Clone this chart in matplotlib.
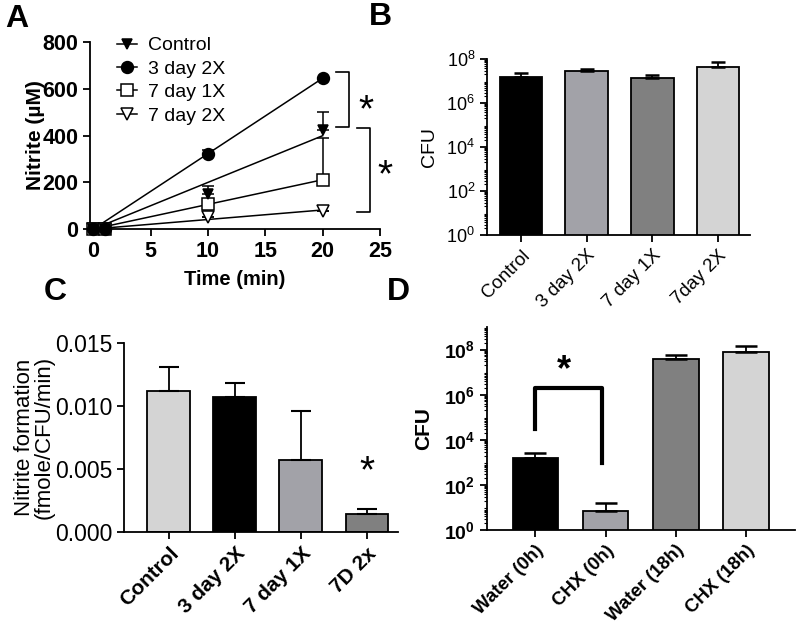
import numpy as np
import matplotlib
matplotlib.use("Agg")
import matplotlib.pyplot as plt
import matplotlib.ticker as ticker
from matplotlib.lines import Line2D

plt.rcParams['font.family'] = ['Liberation Sans', 'DejaVu Sans']
plt.rcParams['mathtext.default'] = 'regular'
plt.rcParams['axes.linewidth'] = 1.3

# panel A: nitrite over time
time_min = [0, 1, 10, 20]
control = [0, 0, 150, 425]
control_err = [0, 0, 35, 75]
day3_2x = [0, 0, 320, 648]
day3_2x_err = [0, 0, 20, 0]
day7_1x = [0, 0, 108, 210]
day7_1x_err = [0, 0, 20, 180]
day7_2x = [0, 0, 50, 77]
day7_2x_err = [0, 0, 0, 0]

# panel B: CFU per group
b_groups = ["Control", "3 day 2X", "7 day 1X", "7day 2X"]
b_cfu = [1.5e7, 2.8e7, 1.4e7, 4.3e7]
b_err = [0.8e7, 0.7e7, 0.5e7, 3.0e7]

# panel C: nitrite formation rate
c_groups = ["Control", "3 day 2X", "7 day 1X", "7D 2x"]
c_rate = [0.0112, 0.0107, 0.0057, 0.0014]
c_err = [0.0019, 0.0011, 0.0039, 0.0004]

# panel D: CFU water vs CHX
d_groups = ["Water (0h)", "CHX (0h)", "Water (18h)", "CHX (18h)"]
d_cfu = [1.6e3, 7, 3.9e7, 7.6e7]
d_err = [1.0e3, 8, 2.1e7, 6.4e7]

LIGHT = "#d4d4d4"
MID = "#a2a2a8"
DARK = "#808080"

fig = plt.figure(figsize=(8, 6.3), dpi=100)


def px_axes(left, right, top, bottom):
    W, H = 800.0, 630.0
    return fig.add_axes([left / W, 1 - bottom / H, (right - left) / W, (bottom - top) / H])


def clean(ax):
    ax.spines['top'].set_visible(False)
    ax.spines['right'].set_visible(False)
    ax.tick_params(direction='out', length=5, width=1.3, color='black')


def log_fmt(v, pos):
    e = int(round(np.log10(v)))
    return r"$10^{%d}$" % e


# ---- A ----
axA = px_axes(90, 380, 42, 229)
clean(axA)
t = np.array(time_min, dtype=float)
series = [
    (control, control_err, 'v', 'black', 7.5),
    (day3_2x, day3_2x_err, 'o', 'black', 8.5),
    (day7_1x, day7_1x_err, 's', 'white', 8),
    (day7_2x, day7_2x_err, 'v', 'white', 8),
]
# draw in reverse so the filled symbols sit on top at the origin
for i, (vals, err, m, fc, ms) in enumerate(series[::-1]):
    y = np.array(vals, dtype=float)
    slope = np.sum(t * y) / np.sum(t * t)
    xs = np.array([0, 20])
    axA.plot(xs, slope * xs, color='black', lw=1.1, zorder=2)
    axA.errorbar(t, y, yerr=[np.zeros_like(y), np.array(err)], fmt=m, mfc=fc, mec='black',
                 ms=ms, mew=1.1, ecolor='black', elinewidth=1.1, capsize=4.5,
                 clip_on=False, zorder=3 + i)
axA.set_xlim(-0.3, 25)
axA.set_ylim(0, 800)
axA.xaxis.set_major_locator(ticker.MultipleLocator(5))
axA.yaxis.set_major_locator(ticker.MultipleLocator(200))
for lab in axA.get_xticklabels() + axA.get_yticklabels():
    lab.set_fontsize(15.5)
    lab.set_fontweight('bold')
axA.set_xlabel("Time (min)", fontsize=14.5, fontweight='bold')
axA.xaxis.set_label_coords(0.5, -0.22)
axA.set_ylabel("Nitrite (µM)", fontsize=15, fontweight='bold')
axA.yaxis.set_label_coords(-0.155, 0.5)
handles = [Line2D([], [], color='black', lw=1.1, marker=m, mfc=fc, mec='black', ms=ms, mew=1.1)
           for _, _, m, fc, ms in series]
axA.legend(handles, ["Control", "3 day 2X", "7 day 1X", "7 day 2X"], loc='upper left',
           bbox_to_anchor=(0.06, 1.08), frameon=False, fontsize=14, handlelength=1.0,
           handletextpad=0.6, labelspacing=0.3, borderpad=0)
# significance brackets
kw = dict(color='black', lw=1.2, clip_on=False)
axA.plot([21.2, 22.3, 22.3, 21.2], [672, 672, 435, 435], **kw)
axA.plot([23.0, 24.1, 24.1, 23.0], [432, 432, 73, 73], **kw)
axA.text(23.8, 503, "*", fontsize=28, ha='center', va='center', clip_on=False)
axA.text(25.4, 225, "*", fontsize=28, ha='center', va='center', clip_on=False)

# ---- B ----
axB = px_axes(487, 750, 59, 235)
clean(axB)
xb = np.arange(len(b_groups))
axB.bar(xb, b_cfu, width=0.65, color=['black', MID, DARK, LIGHT], edgecolor='black', lw=1.3)
axB.errorbar(xb, b_cfu, yerr=[np.zeros(len(b_cfu)), b_err], fmt='none', ecolor='black',
             elinewidth=1.3, capsize=4.7, capthick=1.8)
axB.set_yscale('log')
axB.set_ylim(1, 1e8)
axB.set_xlim(-0.52, 3.49)
axB.yaxis.set_major_locator(ticker.FixedLocator([1, 1e2, 1e4, 1e6, 1e8]))
axB.yaxis.set_minor_locator(ticker.LogLocator(base=10, subs=np.arange(2, 10), numticks=20))
axB.yaxis.set_minor_formatter(ticker.NullFormatter())
axB.yaxis.set_major_formatter(ticker.FuncFormatter(log_fmt))
axB.tick_params(axis='y', which='minor', length=2.5, width=0.8)
axB.set_xticks(xb)
axB.set_xticklabels(b_groups, rotation=45, ha='right', rotation_mode='anchor', fontsize=13.5)
axB.tick_params(axis='y', labelsize=13)
axB.set_ylabel("CFU", fontsize=14)
axB.yaxis.set_label_coords(-0.186, 0.5)

# ---- C ----
axC = px_axes(124, 398, 343, 532)
clean(axC)
xc = np.arange(len(c_groups))
axC.bar(xc, c_rate, width=0.65, color=[LIGHT, 'black', MID, DARK], edgecolor='black', lw=1.3)
axC.errorbar(xc, c_rate, yerr=[np.zeros(len(c_rate)), c_err], fmt='none', ecolor='black',
             elinewidth=1.3, capsize=7.5, capthick=1.5)
axC.set_ylim(0, 0.015)
axC.set_xlim(-0.68, 3.47)
axC.yaxis.set_major_locator(ticker.MultipleLocator(0.005))
axC.yaxis.set_major_formatter(ticker.FormatStrFormatter('%.3f'))
axC.set_xticks(xc)
axC.set_xticklabels(c_groups, rotation=45, ha='right', rotation_mode='anchor', fontsize=15,
                    fontweight='bold')
axC.tick_params(axis='y', labelsize=16.5)
axC.set_ylabel("Nitrite formation\n(fmole/CFU/min)", fontsize=16, linespacing=0.95)
axC.yaxis.set_label_coords(-0.252, 0.5)
axC.text(3, 0.0047, "*", fontsize=28, ha='center', va='center')

# ---- D ----
axD = px_axes(487, 795, 327, 530)
clean(axD)
xd = np.arange(len(d_groups))
axD.bar(xd, d_cfu, width=0.65, color=['black', MID, DARK, LIGHT], edgecolor='black', lw=1.3)
axD.errorbar(xd, d_cfu, yerr=[np.zeros(len(d_cfu)), d_err], fmt='none', ecolor='black',
             elinewidth=1.3, capsize=8, capthick=1.8)
axD.set_yscale('log')
axD.set_ylim(1, 1e9)
axD.set_xlim(-0.69, 3.7)
axD.yaxis.set_major_locator(ticker.FixedLocator([1, 1e2, 1e4, 1e6, 1e8]))
axD.yaxis.set_minor_locator(ticker.LogLocator(base=10, subs=np.arange(2, 10), numticks=20))
axD.yaxis.set_minor_formatter(ticker.NullFormatter())
axD.yaxis.set_major_formatter(ticker.FuncFormatter(log_fmt))
axD.tick_params(axis='y', which='minor', length=2.5, width=0.8)
axD.set_xticks(xd)
axD.set_xticklabels(d_groups, rotation=45, ha='right', rotation_mode='anchor', fontsize=13.5,
                    fontweight='bold')
for lab in axD.get_yticklabels():
    lab.set_fontsize(14)
    lab.set_fontweight('bold')
axD.set_ylabel("CFU", fontsize=15, fontweight='bold')
axD.yaxis.set_label_coords(-0.175, 0.5)
axD.plot([0, 0, 0.95, 0.95], [3e4, 1.9e6, 1.9e6, 9e2], color='black', lw=3)
axD.text(0.4, 1.2e7, "*", fontsize=26, fontweight='bold', ha='center', va='center')

# panel letters
for letter, x, y in [("A", 17, 19), ("B", 380, 17), ("C", 55, 292), ("D", 398, 292)]:
    fig.text(x / 800, 1 - y / 630, letter, fontsize=23, fontweight='bold',
             ha='center', va='center')

fig.savefig("out.png", dpi=100)
